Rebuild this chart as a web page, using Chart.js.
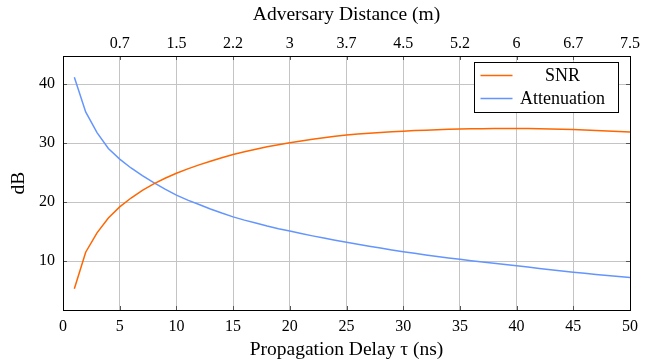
<!DOCTYPE html>
<html>
<head>
<meta charset="utf-8">
<script src="https://cdn.jsdelivr.net/npm/chart.js@4"></script>
<style>
  html, body { margin: 0; padding: 0; background: #fff; }
  #wrap { width: 651px; height: 364px; }
</style>
</head>
<body>
<div id="wrap"><canvas id="c" width="651" height="364"></canvas></div>
<script>
// ---- data ----
const delayNs = [1,2,3,4,5,6,7,8,9,10,11,12,13,14,15,16,17,18,19,20,21,22,23,24,25,
                 26,27,28,29,30,31,32,33,34,35,36,37,38,39,40,41,42,43,44,45,46,47,48,49,50];
const snrDb = [5.3,11.5,14.8,17.3,19.2,20.7,22.0,23.1,24.05,24.9,25.65,26.33,26.95,27.53,28.08,28.56,28.99,29.39,29.75,30.08,
               30.39,30.67,30.93,31.17,31.38,31.55,31.7,31.83,31.94,32.04,32.14,32.22,32.29,32.35,32.4,32.44,32.47,32.49,32.5,32.5,
               32.48,32.46,32.42,32.37,32.31,32.24,32.17,32.09,32.0,31.9];
const attenDb = [41.2,35.3,31.8,29.1,27.3,25.8,24.5,23.3,22.2,21.2,20.35,19.6,18.85,18.15,17.5,16.95,16.45,15.95,15.5,15.1,
                 14.68,14.28,13.9,13.54,13.2,12.86,12.53,12.21,11.9,11.6,11.32,11.05,10.79,10.54,10.3,10.07,9.85,9.63,9.41,9.2,
                 8.98,8.76,8.54,8.32,8.1,7.92,7.74,7.56,7.38,7.2];
// top axis labels, one per bottom tick at 5, 10, ... 50 ns
const distLabels = ['0.7','1.5','2.2','3','3.7','4.5','5.2','6','6.7','7.5'];

const serif = '"Liberation Serif", "DejaVu Serif", serif';
const pts = ys => delayNs.map((x, i) => ({ x: x, y: ys[i] }));

// frame, inner tick marks and boxed legend like pgfplots
const framePlugin = {
  id: 'frame',
  afterDatasetsDraw(chart) {
    const { ctx, chartArea: a, scales } = chart;
    ctx.save();
    ctx.strokeStyle = '#555';
    ctx.lineWidth = 1;
    ctx.beginPath();
    scales.x.ticks.forEach(t => {
      const px = Math.round(scales.x.getPixelForValue(t.value)) + 0.5;
      ctx.moveTo(px, a.bottom); ctx.lineTo(px, a.bottom - 4);
      ctx.moveTo(px, a.top); ctx.lineTo(px, a.top + 4);
    });
    scales.y.ticks.forEach(t => {
      const py = Math.round(scales.y.getPixelForValue(t.value)) + 0.5;
      ctx.moveTo(a.left, py); ctx.lineTo(a.left + 4, py);
      ctx.moveTo(a.right, py); ctx.lineTo(a.right - 4, py);
    });
    ctx.stroke();
    ctx.strokeStyle = '#000';
    ctx.strokeRect(Math.round(a.left) + 0.5, Math.round(a.top) + 0.5,
                   Math.round(a.right - a.left), Math.round(a.bottom - a.top));

    // legend box
    const bx = 474.5, by = 62.5, bw = 144, bh = 50;
    ctx.fillStyle = '#fff';
    ctx.fillRect(bx, by, bw, bh);
    ctx.strokeStyle = '#000';
    ctx.strokeRect(bx, by, bw, bh);
    ctx.font = '18px ' + serif;
    ctx.textAlign = 'center';
    ctx.textBaseline = 'middle';
    chart.data.datasets.forEach((ds, i) => {
      const yy = by + 13 + i * 23;
      ctx.strokeStyle = ds.borderColor;
      ctx.lineWidth = 1.5;
      ctx.beginPath();
      ctx.moveTo(bx + 6, yy); ctx.lineTo(bx + 38, yy);
      ctx.stroke();
      ctx.fillStyle = '#000';
      ctx.fillText(ds.label, bx + 88, yy + 1);
    });
    ctx.restore();
  }
};

new Chart(document.getElementById('c'), {
  type: 'line',
  data: {
    datasets: [
      { label: 'SNR', data: pts(snrDb), borderColor: '#ff6600', borderWidth: 1.5,
        pointRadius: 0, tension: 0, xAxisID: 'x', yAxisID: 'y' },
      { label: 'Attenuation', data: pts(attenDb), borderColor: '#6495ff', borderWidth: 1.5,
        pointRadius: 0, tension: 0, xAxisID: 'x', yAxisID: 'y' }
    ]
  },
  options: {
    responsive: false,
    animation: false,
    layout: { padding: { left: 0, right: 21, top: 0, bottom: 0 } },
    plugins: { legend: { display: false }, tooltip: { enabled: false } },
    scales: {
      x: {
        type: 'linear', position: 'bottom', min: 0, max: 50,
        afterFit: s => { s.height = 54; },
        ticks: { stepSize: 5, maxRotation: 0, autoSkip: false, padding: 7, color: '#000',
                 font: { family: serif, size: 16 } },
        grid: { color: '#c4c4c4', lineWidth: 1, drawTicks: false },
        border: { display: false },
        title: { display: true, text: 'Propagation Delay \u03c4 (ns)', color: '#000',
                 font: { family: serif, size: 19.5 }, padding: { top: 0, bottom: 2 } }
      },
      x2: {
        type: 'linear', position: 'top', min: 0, max: 50,
        afterFit: s => { s.height = 56; },
        ticks: { stepSize: 5, maxRotation: 0, autoSkip: false, padding: 3, color: '#000',
                 font: { family: serif, size: 16 },
                 callback: v => (v > 0 ? distLabels[v / 5 - 1] : '') },
        grid: { display: false, drawTicks: false },
        border: { display: false },
        title: { display: true, text: 'Adversary Distance (m)', color: '#000',
                 font: { family: serif, size: 19.5 }, padding: { top: 3, bottom: 0 } }
      },
      y: {
        min: 1.7, max: 44.8,
        afterFit: s => { s.width = 63; },
        afterBuildTicks: s => { s.ticks = [10, 20, 30, 40].map(v => ({ value: v })); },
        ticks: { padding: 8, color: '#000', font: { family: serif, size: 16 } },
        grid: { color: '#c4c4c4', lineWidth: 1, drawTicks: false },
        border: { display: false },
        title: { display: true, text: 'dB', color: '#000',
                 font: { family: serif, size: 19.5 }, padding: { top: 7, bottom: 0 } }
      }
    }
  },
  plugins: [framePlugin]
});
</script>
</body>
</html>
